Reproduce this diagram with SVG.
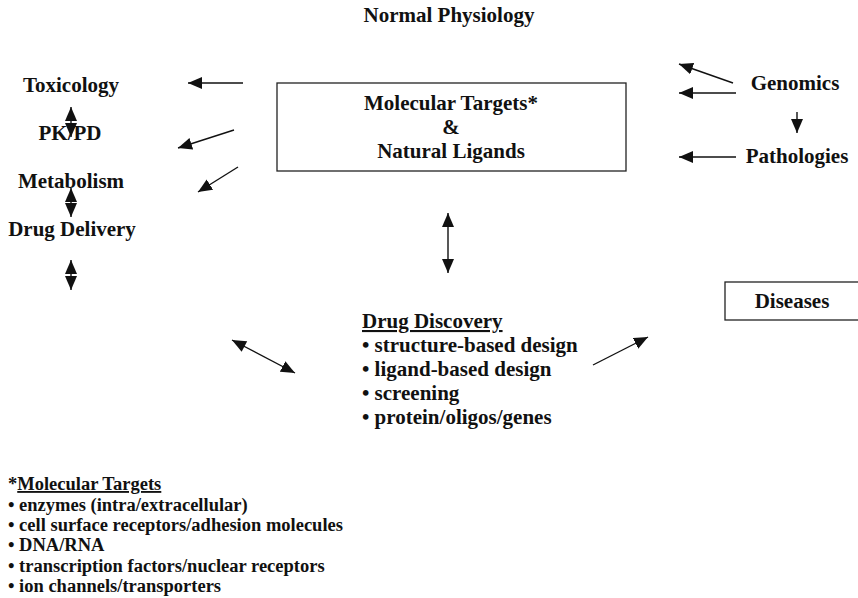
<svg xmlns="http://www.w3.org/2000/svg" width="858" height="598" viewBox="0 0 858 598">
<style>
text{font-family:"Liberation Serif","Times New Roman",serif;font-weight:bold;fill:#111}
.t{font-size:21px}
.s{font-size:18.5px}
.c{text-anchor:middle}
.ln{stroke:#111;stroke-width:1.4;fill:none}
.box{stroke:#222;stroke-width:1.3;fill:none}
.a{marker-end:url(#ah)}
.d{marker-start:url(#ahs);marker-end:url(#ah)}
</style>
<defs>
<marker id="ah" markerUnits="userSpaceOnUse" markerWidth="15" markerHeight="13" refX="14" refY="6" orient="auto"><path d="M0,0L14,6L0,12z" fill="#111"/></marker>
<marker id="ahs" markerUnits="userSpaceOnUse" markerWidth="15" markerHeight="13" refX="0" refY="6" orient="auto"><path d="M14,0L0,6L14,12z" fill="#111"/></marker>
</defs>
<g id="title"><text class="t c" x="449" y="22">Normal Physiology</text></g>
<g id="targets"><rect class="box" x="277" y="83" width="349" height="88"/>
<text class="t c" x="451" y="110">Molecular Targets*</text>
<text class="t c" x="451" y="134">&amp;</text>
<text class="t c" x="451" y="158">Natural Ligands</text></g>
<g id="toxicology"><text class="t c" x="71" y="92">Toxicology</text></g>
<g id="pkpd"><text class="t c" x="70" y="140">PK/PD</text></g>
<g id="metabolism"><text class="t c" x="71" y="188">Metabolism</text></g>
<g id="delivery"><text class="t c" x="72" y="236">Drug Delivery</text></g>
<g id="genomics"><text class="t c" x="795" y="90">Genomics</text></g>
<g id="pathologies"><text class="t c" x="797" y="163">Pathologies</text></g>
<g id="diseases"><rect class="box" x="725" y="282" width="150" height="38"/>
<text class="t c" x="792" y="308">Diseases</text></g>
<g id="discovery">
<text class="t" x="362" y="328"><tspan text-decoration="underline">Drug Discovery</tspan></text>
<text class="t" x="362" y="352">• structure-based design</text>
<text class="t" x="362" y="376">• ligand-based design</text>
<text class="t" x="362" y="400">• screening</text>
<text class="t" x="362" y="424">• protein/oligos/genes</text>
</g>
<g id="legend">
<text class="s" x="8" y="490">*<tspan text-decoration="underline">Molecular Targets</tspan></text>
<text class="s" x="8" y="510.5">• enzymes (intra/extracellular)</text>
<text class="s" x="8" y="531">• cell surface receptors/adhesion molecules</text>
<text class="s" x="8" y="551">• DNA/RNA</text>
<text class="s" x="8" y="571.5">• transcription factors/nuclear receptors</text>
<text class="s" x="8" y="592">• ion channels/transporters</text>
</g>
<g id="connectors">
<line class="ln a" x1="243" y1="83" x2="188" y2="83"/>
<line class="ln a" x1="234" y1="130" x2="178" y2="148"/>
<line class="ln a" x1="238" y1="167" x2="198" y2="192"/>
<line class="ln d" x1="71" y1="107" x2="71" y2="137"/>
<line class="ln d" x1="71" y1="188" x2="71" y2="217"/>
<line class="ln d" x1="71" y1="260" x2="71" y2="290"/>
<line class="ln a" x1="733" y1="83" x2="679" y2="64"/>
<line class="ln a" x1="736" y1="93" x2="679" y2="93"/>
<line class="ln a" x1="797" y1="112" x2="797" y2="133"/>
<line class="ln a" x1="736" y1="157" x2="679" y2="157"/>
<line class="ln d" x1="448" y1="213" x2="448" y2="273"/>
<line class="ln d" x1="232" y1="340" x2="295" y2="373"/>
<line class="ln a" x1="593" y1="365" x2="648" y2="337"/>
</g>
</svg>
